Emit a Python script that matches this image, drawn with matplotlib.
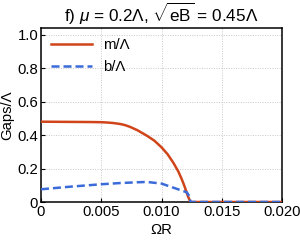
import matplotlib
matplotlib.use("Agg")
import matplotlib.pyplot as plt
from matplotlib.ticker import FixedLocator, FixedFormatter

plt.rcParams['font.family'] = ['Liberation Sans', 'DejaVu Sans']
plt.rcParams['mathtext.fontset'] = 'custom'
plt.rcParams['mathtext.rm'] = 'Liberation Sans'
plt.rcParams['mathtext.it'] = 'Liberation Sans:italic'

omega_m = [0.0, 0.002, 0.004, 0.005, 0.0055, 0.006, 0.0066, 0.007, 0.00739, 0.008, 0.00877, 0.0094, 0.0100, 0.0105, 0.01097,
           0.0114, 0.01167, 0.0119, 0.01208, 0.0122, 0.0123, 0.01235, 0.01237, 0.0125, 0.016, 0.020]
m_vals = [0.48, 0.479, 0.478, 0.477, 0.475, 0.472, 0.466, 0.459, 0.449, 0.429, 0.397, 0.367, 0.327, 0.286, 0.236,
          0.182, 0.138, 0.096, 0.058, 0.033, 0.017, 0.007, 0.0, 0.0, 0.0, 0.0]

omega_b = [0.0, 0.0025, 0.005, 0.0065, 0.00739, 0.00877, 0.0100, 0.01097, 0.0121, 0.01228, 0.01237, 0.0124, 0.013, 0.016, 0.020]
b_vals = [0.076, 0.092, 0.106, 0.113, 0.116, 0.12, 0.11, 0.086, 0.058, 0.038, 0.03, 0.0, 0.0, 0.0, 0.0]

xticks = [0, 0.005, 0.010, 0.015, 0.020]
xticklabels = ["0", "0.005", "0.010", "0.015", "0.020"]
yticks = [0, 0.2, 0.4, 0.6, 0.8, 1.0]
yticklabels = ["0", "0.2", "0.4", "0.6", "0.8", "1.0"]

fig = plt.figure(figsize=(3.0, 2.45), dpi=100)
ax = fig.add_axes([41/300, 1-202/245, (282-41)/300, (202-28)/245])

ax.plot(omega_m, m_vals, color='#D0441A', lw=1.8, label='m/Λ', zorder=3)
ax.plot(omega_b, b_vals, color='#3A6BD8', lw=1.8, ls=(0, (3.2, 1.6)), label='b/Λ', zorder=4)

ax.set_xlim(0, 0.020)
ax.set_ylim(0, 1.04)
ax.xaxis.set_major_locator(FixedLocator(xticks))
ax.xaxis.set_major_formatter(FixedFormatter(xticklabels))
ax.yaxis.set_major_locator(FixedLocator(yticks))
ax.yaxis.set_major_formatter(FixedFormatter(yticklabels))
ax.tick_params(direction='in', length=3, width=0.8, labelsize=10.7, pad=2, top=False, right=False)
ax.grid(True, color='#C8C8C8', ls=(0, (1, 1.5)), lw=0.7)
for s in ax.spines.values():
    s.set_linewidth(1.1)
    s.set_color('black')

ax.set_xlabel('ΩR', fontsize=10.7, labelpad=3)
ax.set_ylabel('Gaps/Λ', fontsize=10.7)
ax.yaxis.set_label_coords(-0.112, 0.5)
ax.set_title(r'f) $\mathit{\mu}$ = 0.2Λ, $\sqrt{\mathrm{eB}}$ = 0.45Λ', fontsize=12.3, pad=4)

ax.legend(loc='upper left', frameon=False, fontsize=10.7, handlelength=2.7,
          handletextpad=0.8, borderaxespad=0.3, labelspacing=0.5, bbox_to_anchor=(0.0, 1.0))

fig.savefig('out.png', dpi=100)
